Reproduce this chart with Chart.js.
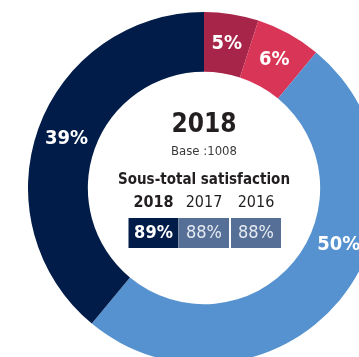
<!DOCTYPE html>
<html>
<head>
<meta charset="utf-8">
<script src="https://cdn.jsdelivr.net/npm/chart.js@4.4.1/dist/chart.umd.min.js"></script>
<style>
  html, body { margin: 0; padding: 0; background: #fff; overflow: hidden; width: 359px; height: 357px; }
  #wrap { position: absolute; left: 28px; top: 12px; width: 352px; height: 352px; }
</style>
</head>
<body>
<div id="wrap"><canvas id="donut" width="352" height="352"></canvas></div>
<script>
// niveaux de satisfaction, dans le sens des aiguilles d'une montre
const categories = ["Pas du tout satisfait", "Plutôt pas satisfait", "Plutôt satisfait", "Très satisfait"];
const shares = [5, 6, 50, 39];
const sliceColors = ["#a8254a", "#d83557", "#5592cf", "#011c48"];

const yearTitle = "2018";
const baseSize = 1008;
const subtotalTitle = "Sous-total satisfaction";
const subtotalYears = ["2018", "2017", "2016"];
const subtotalValues = [89, 88, 88];

const FONT = '"DejaVu Sans Condensed", "DejaVu Sans", sans-serif';

// pourcentages sur les anneaux
const sliceLabels = {
  id: "sliceLabels",
  afterDatasetsDraw(chart, args, opts) {
    const ctx = chart.ctx;
    const meta = chart.getDatasetMeta(0);
    ctx.save();
    ctx.fillStyle = "#fff";
    ctx.font = "bold 20px " + FONT;
    ctx.textAlign = "center";
    ctx.textBaseline = "middle";
    meta.data.forEach((arc, i) => {
      const p = arc.getProps(["x", "y", "startAngle", "endAngle", "innerRadius", "outerRadius"], true);
      let angle = (p.startAngle + p.endAngle) / 2;
      if (opts.angleShift && opts.angleShift[i]) angle += opts.angleShift[i];
      const r = (p.innerRadius + p.outerRadius) / 2;
      ctx.fillText(shares[i] + "%", p.x + Math.cos(angle) * r, p.y + Math.sin(angle) * r);
    });
    ctx.restore();
  }
};

// titre, base et tableau du sous-total au centre
const centerBlock = {
  id: "centerBlock",
  afterDraw(chart) {
    const ctx = chart.ctx;
    const a = chart.chartArea;
    const cx = (a.left + a.right) / 2;
    const cy = (a.top + a.bottom) / 2;
    ctx.save();
    ctx.textAlign = "center";
    ctx.textBaseline = "middle";

    ctx.fillStyle = "#231f20";
    ctx.font = "bold 26px " + FONT;
    ctx.fillText(yearTitle, cx, cy - 63);

    ctx.fillStyle = "#3a3a3a";
    ctx.font = "13px " + FONT;
    ctx.fillText("Base :" + baseSize, cx, cy - 36);

    ctx.fillStyle = "#231f20";
    ctx.font = "bold 15px " + FONT;
    ctx.fillText(subtotalTitle, cx, cy - 8);

    const colX = [-50.5, 0, 52];
    subtotalYears.forEach((y, i) => {
      ctx.fillStyle = "#231f20";
      ctx.font = (i === 0 ? "bold " : "") + "16px " + FONT;
      ctx.fillText(y, cx + colX[i], cy + 15);

      const w = 50, h = 30;
      ctx.fillStyle = i === 0 ? "#011c48" : "#566f97";
      ctx.fillRect(cx + colX[i] - w / 2, cy + 30, w, h);
      ctx.fillStyle = i === 0 ? "#fff" : "#e6ebf3";
      ctx.font = (i === 0 ? "bold " : "") + "18px " + FONT;
      ctx.fillText(subtotalValues[i] + "%", cx + colX[i], cy + 45.5);
    });
    ctx.restore();
  }
};

new Chart(document.getElementById("donut"), {
  type: "doughnut",
  data: {
    labels: categories,
    datasets: [{
      data: shares,
      backgroundColor: sliceColors,
      borderWidth: 0
    }]
  },
  options: {
    responsive: false,
    animation: false,
    cutout: "66%",
    layout: { padding: 0 },
    plugins: {
      legend: { display: false },
      tooltip: { enabled: false },
      sliceLabels: { angleShift: [0, 0, -0.295, 0] }
    }
  },
  plugins: [sliceLabels, centerBlock]
});
</script>
</body>
</html>
